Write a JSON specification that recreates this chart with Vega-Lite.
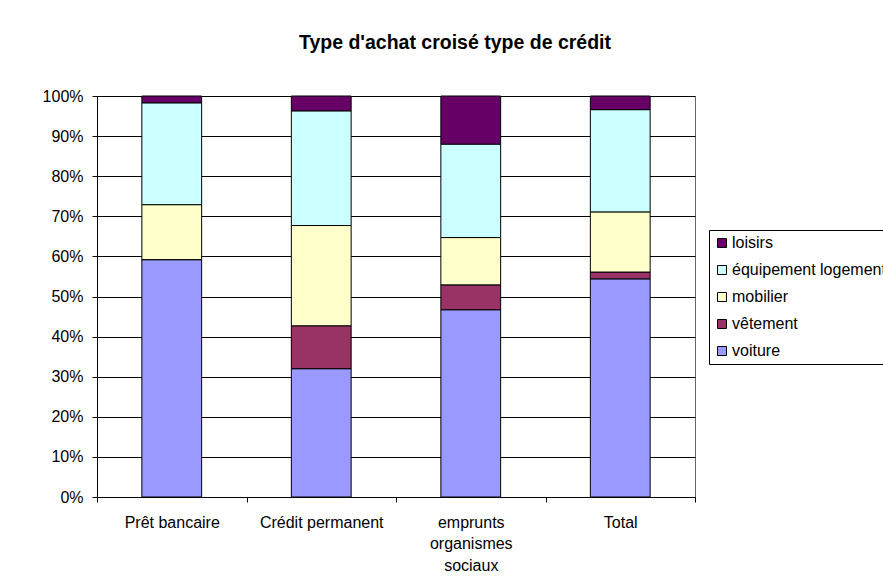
{
  "$schema": "https://vega.github.io/schema/vega-lite/v6.json",
  "autosize": {"type": "none"},
  "padding": {"left": 97, "top": 96, "right": 188, "bottom": 91},
  "width": 598,
  "height": 401,
  "background": "white",
  "title": {
    "text": "Type d'achat croisé type de crédit",
    "font": "Liberation Sans",
    "fontSize": 19.5,
    "fontWeight": "bold",
    "color": "#000",
    "anchor": "middle",
    "frame": "group",
    "dx": 59,
    "baseline": "alphabetic",
    "offset": 20
  },
  "data": {
    "values": [
      {"credit": "Prêt bancaire", "achat": "voiture", "o": 1, "v": 59.2},
      {"credit": "Prêt bancaire", "achat": "vêtement", "o": 2, "v": 0.0},
      {"credit": "Prêt bancaire", "achat": "mobilier", "o": 3, "v": 13.7},
      {"credit": "Prêt bancaire", "achat": "équipement logement", "o": 4, "v": 25.4},
      {"credit": "Prêt bancaire", "achat": "loisirs", "o": 5, "v": 1.7},
      {"credit": "Crédit permanent", "achat": "voiture", "o": 1, "v": 32.0},
      {"credit": "Crédit permanent", "achat": "vêtement", "o": 2, "v": 10.7},
      {"credit": "Crédit permanent", "achat": "mobilier", "o": 3, "v": 25.0},
      {"credit": "Crédit permanent", "achat": "équipement logement", "o": 4, "v": 28.6},
      {"credit": "Crédit permanent", "achat": "loisirs", "o": 5, "v": 3.7},
      {"credit": "emprunts organismes sociaux", "achat": "voiture", "o": 1, "v": 46.7},
      {"credit": "emprunts organismes sociaux", "achat": "vêtement", "o": 2, "v": 6.2},
      {"credit": "emprunts organismes sociaux", "achat": "mobilier", "o": 3, "v": 11.8},
      {"credit": "emprunts organismes sociaux", "achat": "équipement logement", "o": 4, "v": 23.3},
      {"credit": "emprunts organismes sociaux", "achat": "loisirs", "o": 5, "v": 12.0},
      {"credit": "Total", "achat": "voiture", "o": 1, "v": 54.4},
      {"credit": "Total", "achat": "vêtement", "o": 2, "v": 1.7},
      {"credit": "Total", "achat": "mobilier", "o": 3, "v": 15.0},
      {"credit": "Total", "achat": "équipement logement", "o": 4, "v": 25.5},
      {"credit": "Total", "achat": "loisirs", "o": 5, "v": 3.4}
    ]
  },
  "mark": {"type": "bar", "width": {"band": 0.4}, "stroke": "#000", "strokeWidth": 1},
  "encoding": {
    "x": {
      "field": "credit",
      "type": "nominal",
      "sort": null,
      "scale": {"paddingInner": 0, "paddingOuter": 0},
      "axis": {
        "title": null,
        "labelAngle": 0,
        "tickBand": "extent",
        "tickSize": 5,
        "tickColor": "#000",
        "domainColor": "#000",
        "labelFont": "Liberation Sans",
        "labelFontSize": 16,
        "labelColor": "#000",
        "labelPadding": 12,
        "labelBaseline": "top",
        "labelLineHeight": 21.5,
        "labelExpr": "datum.label == 'emprunts organismes sociaux' ? ['emprunts', 'organismes', 'sociaux'] : datum.label",
        "grid": false
      }
    },
    "y": {
      "field": "v",
      "type": "quantitative",
      "stack": "normalize",
      "scale": {"domain": [0, 1], "nice": false},
      "axis": {
        "title": null,
        "format": ".0%",
        "values": [0, 0.1, 0.2, 0.3, 0.4, 0.5, 0.6, 0.7, 0.8, 0.9, 1],
        "tickSize": 5,
        "tickColor": "#000",
        "domainColor": "#000",
        "gridColor": "#000",
        "gridOpacity": 1,
        "labelFont": "Liberation Sans",
        "labelFontSize": 16,
        "labelColor": "#000",
        "labelPadding": 9
      }
    },
    "color": {
      "field": "achat",
      "type": "nominal",
      "scale": {
        "domain": ["loisirs", "équipement logement", "mobilier", "vêtement", "voiture"],
        "range": ["#660066", "#CCFFFF", "#FFFFCC", "#993366", "#9999FF"]
      },
      "legend": {
        "title": null,
        "orient": "none",
        "legendX": 612,
        "legendY": 134,
        "strokeColor": "#000",
        "fillColor": "#fff",
        "padding": 5,
        "symbolType": "square",
        "symbolSize": 81,
        "symbolStrokeColor": "#000",
        "symbolStrokeWidth": 1,
        "symbolOpacity": 1,
        "labelFont": "Liberation Sans",
        "labelFontSize": 16,
        "labelColor": "#000",
        "labelOffset": 2,
        "rowPadding": 11,
        "labelLimit": 400
      }
    },
    "order": {"field": "o", "type": "quantitative"}
  },
  "config": {
    "view": {"stroke": "#666", "strokeWidth": 1},
    "axis": {"gridWidth": 1}
  }
}
